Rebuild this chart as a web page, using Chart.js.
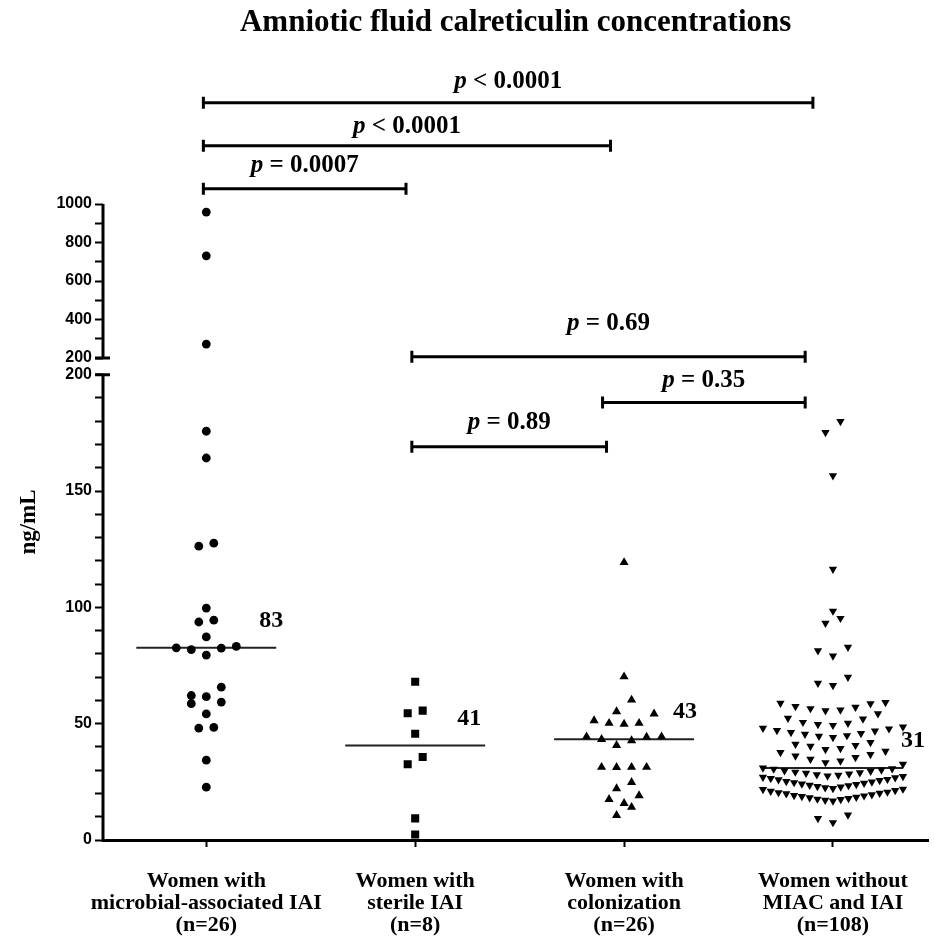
<!DOCTYPE html>
<html>
<head>
<meta charset="utf-8">
<title>Amniotic fluid calreticulin concentrations</title>
<script src="https://cdn.jsdelivr.net/npm/chart.js@4.4.0/dist/chart.umd.min.js"></script>
<style>
  html, body { margin: 0; padding: 0; background: #fff; }
  #wrap { width: 934px; height: 936px; }
</style>
</head>
<body>
<div id="wrap"><canvas id="chart" width="934" height="936"></canvas></div>
<script>
/* Amniotic fluid calreticulin — scatter dot plot, broken y axis */

// ============ DATA ============
const groupLabels = [
  ['Women with', 'microbial-associated IAI', '(n=26)'],
  ['Women with', 'sterile IAI', '(n=8)'],
  ['Women with', 'colonization', '(n=26)'],
  ['Women without', 'MIAC and IAI', '(n=108)']
];

const microbialIAI = [958, 731, 273, 175.7, 164.2, 127.6, 126.3, 99.7, 94.5, 93.7, 87.3,
  83.2, 82.6, 82.5, 81.8, 79.5, 65.7, 62.1, 61.6, 59.3, 58.6, 54.2, 48.4, 48.1, 34.3, 22.7];

const sterileIAI = [68.0, 55.6, 54.5, 45.7, 35.7, 32.6, 9.3, 2.4];

const colonization = [119.3, 70.2, 60.2, 55.2, 54.2, 51.3, 50.2, 50.2, 49.8, 44.4, 44.4, 44.2,
  43.3, 42.7, 40.7, 31.3, 31.3, 31.3, 31.2, 24.8, 22.1, 19.1, 17.5, 15.8, 14.1, 10.6];

const noMiacIai = [179.9, 175.2, 156.6, 116.4, 98.4, 95.3, 93.2, 82.9, 81.4, 79.1, 70.0, 67.4, 66.4,
  59.1, 58.8, 58.6, 57.4, 57.1, 56.5, 55.9, 55.6, 54.3, 52.4, 52.0,
  50.6, 50.2, 49.7, 49.3, 48.6, 48.1, 47.8, 47.1, 46.9, 46.2, 45.8, 45.5, 44.9, 44.6, 44.1,
  41.9, 41.2, 40.7, 40.3, 39.4, 38.9, 38.2, 37.6, 36.8, 36.1, 35.5, 34.7, 34.0, 33.3, 32.6,
  31.0, 30.7, 30.5, 30.1, 29.8, 29.6, 29.2, 28.9, 28.7, 28.4, 28.1, 27.9, 27.5, 27.3, 27.0, 26.8, 26.5,
  26.1, 25.9, 25.6, 25.2, 25.0, 24.7, 24.4, 24.1, 23.9, 23.6, 23.4, 23.0, 22.8, 22.5, 22.2, 21.9, 21.7,
  21.3, 21.0, 20.6, 20.4, 20.1, 19.9, 19.5, 19.2, 19.0, 18.7, 18.4, 18.2, 17.9, 17.6, 17.4, 17.1, 16.8,
  10.8, 9.3, 7.5];

const medians = [82.6, 40.6, 43.3, 31.0];

const lowerTicks = [0, 50, 100, 150, 200];
const upperTicks = [200, 400, 600, 800, 1000];

// p-value brackets (x in group units, y in the units of the given axis)
const brackets = [
  { a: 0.986, b: 3.904, axis: 'y2', at: 1526, textAt: 1635, text: '< 0.0001' },
  { a: 0.986, b: 2.935, axis: 'y2', at: 1302, textAt: 1401, text: '< 0.0001' },
  { a: 0.986, b: 1.956, axis: 'y2', at: 1079, textAt: 1199, text: '= 0.0007' },
  { a: 1.984, b: 3.867, axis: 'y', at: 207.7, textAt: 222.0, text: '= 0.69' },
  { a: 2.897, b: 3.867, axis: 'y', at: 188.0, textAt: 197.3, text: '= 0.35' },
  { a: 1.984, b: 2.916, axis: 'y', at: 169.0, textAt: 179.4, text: '= 0.89' }
];

// ============ STYLE ============
const SERIF = '"Liberation Serif", "Times New Roman", serif';
const SANS = '"Liberation Sans", Arial, sans-serif';
const BREAK = 200;
const BIN_PX = 12;      // rows of the dot plot
const SPACING = 15;     // px between dots in a row
const MAX_ROW = 140;    // widest row, px
const medianLabelDx = [-17, -28, -21, -2];

function pts(vals, g) { return vals.map(v => ({ x: g, y: v })); }

function tickRange(labels, step) {
  const out = [];
  for (let v = labels[0]; v <= labels[labels.length - 1] + 1e-9; v += step) out.push({ value: Math.round(v) });
  return out;
}

function dots(data, g, axis, style, radius, rotation) {
  return {
    data: pts(data, g), group: g, swarm: true, yAxisID: axis,
    pointStyle: style, pointRadius: radius, rotation: rotation || 0,
    backgroundColor: '#000', borderColor: '#000', pointBorderWidth: 0,
    showLine: false
  };
}

function medianLine(m, i) {
  return {
    data: [{ x: i + 1 - 0.335, y: m }, { x: i + 1 + 0.335, y: m }],
    yAxisID: 'y', showLine: true, pointRadius: 0,
    borderColor: '#222', borderWidth: 2
  };
}

// spread points sideways in rows, lowest value in the middle
function swarm(chart) {
  const xs = chart.scales.x;
  const unit = xs.getPixelForValue(2) - xs.getPixelForValue(1);
  chart.data.datasets.forEach(ds => {
    if (!ds.swarm) return;
    const ys = chart.scales[ds.yAxisID];
    const list = ds.data.map(p => ({ p, py: ys.getPixelForValue(p.y) })).sort((a, b) => b.py - a.py);
    let i = 0;
    while (i < list.length) {
      let j = i;
      while (j + 1 < list.length && list[i].py - list[j + 1].py <= BIN_PX) j++;
      const row = list.slice(i, j + 1);
      const n = row.length;
      const gap = n > 1 ? Math.min(SPACING, MAX_ROW / (n - 1)) : 0;
      row.forEach((r, k) => {
        let slot;
        if (n % 2) slot = k === 0 ? 0 : Math.ceil(k / 2) * (k % 2 ? -1 : 1);
        else slot = (Math.floor(k / 2) + 0.5) * (k % 2 ? 1 : -1);
        r.p.x = ds.group + slot * gap / unit;
      });
      i = j + 1;
    }
  });
}

const decorations = {
  id: 'decorations',
  afterDraw(chart) {
    const { ctx, chartArea, scales } = chart;
    const ax = chartArea.left;
    ctx.save();
    ctx.strokeStyle = '#000';
    ctx.fillStyle = '#000';

    // broken y axis
    ctx.lineWidth = 3;
    const y0 = scales.y.getPixelForValue(0), yLow = scales.y.getPixelForValue(BREAK);
    const yHigh = scales.y2.getPixelForValue(BREAK), yTop = scales.y2.getPixelForValue(1000);
    ctx.beginPath();
    ctx.moveTo(ax, y0 + 1.5); ctx.lineTo(ax, yLow);
    ctx.moveTo(ax - 8, yLow); ctx.lineTo(ax + 7, yLow);
    ctx.moveTo(ax, yHigh); ctx.lineTo(ax, yTop);
    ctx.moveTo(ax - 8, yHigh); ctx.lineTo(ax + 7, yHigh);
    ctx.stroke();

    // brackets with p values
    const pSize = 25;
    brackets.forEach(br => {
      const ys = scales[br.axis];
      const x1 = scales.x.getPixelForValue(br.a), x2 = scales.x.getPixelForValue(br.b);
      const y = ys.getPixelForValue(br.at);
      ctx.lineWidth = 3;
      ctx.beginPath();
      ctx.moveTo(x1, y); ctx.lineTo(x2, y);
      ctx.moveTo(x1, y - 6); ctx.lineTo(x1, y + 6);
      ctx.moveTo(x2, y - 6); ctx.lineTo(x2, y + 6);
      ctx.stroke();

      const ty = ys.getPixelForValue(br.textAt);
      const cx = (x1 + x2) / 2;
      ctx.textBaseline = 'middle';
      ctx.textAlign = 'left';
      ctx.font = `italic bold ${pSize}px ${SERIF}`;
      const wp = ctx.measureText('p').width;
      ctx.font = `bold ${pSize}px ${SERIF}`;
      const rest = ' ' + br.text;
      const wr = ctx.measureText(rest).width;
      const sx = cx - (wp + wr) / 2;
      ctx.font = `italic bold ${pSize}px ${SERIF}`;
      ctx.fillText('p', sx, ty);
      ctx.font = `bold ${pSize}px ${SERIF}`;
      ctx.fillText(rest, sx + wp, ty);
    });

    // median values
    ctx.font = `bold 24px ${SERIF}`;
    ctx.textAlign = 'left';
    ctx.textBaseline = 'middle';
    medians.forEach((m, i) => {
      const x = scales.x.getPixelForValue(i + 1 + 0.335) + medianLabelDx[i];
      const y = scales.y.getPixelForValue(m) - 27;
      ctx.fillText(String(Math.round(m)), x, y);
    });

    // y axis title
    ctx.translate(29, (y0 + yTop) / 2);
    ctx.rotate(-Math.PI / 2);
    ctx.textAlign = 'center';
    ctx.font = `bold 23px ${SERIF}`;
    ctx.fillText('ng/mL', 0, 0);
    ctx.restore();
  }
};

const yTicksFont = { family: SANS, size: 16, weight: 'bold' };

const config = {
  type: 'scatter',
  data: {
    datasets: [
      dots(microbialIAI.filter(v => v <= BREAK), 1, 'y', 'circle', 4.4),
      dots(microbialIAI.filter(v => v > BREAK), 1, 'y2', 'circle', 4.4),
      dots(sterileIAI, 2, 'y', 'rect', 5.7),
      dots(colonization, 3, 'y', 'triangle', 5.3),
      dots(noMiacIai, 4, 'y', 'triangle', 4.8, 180),
      ...medians.map(medianLine)
    ]
  },
  options: {
    responsive: false,
    animation: false,
    events: [],
    layout: { padding: 0 },
    plugins: {
      legend: { display: false },
      tooltip: { enabled: false },
      title: {
        display: true,
        text: 'Amniotic fluid calreticulin concentrations',
        fullSize: false,
        color: '#000',
        font: { family: SERIF, size: 31, weight: 'bold', lineHeight: 1.15 },
        padding: { top: 5, bottom: 9 }
      }
    },
    scales: {
      x: {
        type: 'linear', min: 0.5055, max: 4.4564,
        afterBuildTicks: s => { s.ticks = groupLabels.map((_, i) => ({ value: i + 1 })); },
        afterFit: s => { s.height = 96; },
        grid: { drawOnChartArea: false, tickLength: 7, tickWidth: 2, tickColor: '#000' },
        border: { display: true, color: '#000', width: 3 },
        ticks: {
          autoSkip: false, maxRotation: 0, padding: 23, color: '#000',
          font: { family: SERIF, size: 22, weight: 'bold', lineHeight: 1.0 },
          callback: v => groupLabels[v - 1]
        }
      },
      y: {
        type: 'linear', position: 'left', stack: 'v', stackWeight: 473,
        min: 0, max: 203.4,
        afterBuildTicks: s => { s.ticks = tickRange(lowerTicks, 10); },
        afterFit: s => { s.width = 103; },
        grid: { drawOnChartArea: false, tickLength: 8, tickWidth: 2, tickColor: '#000' },
        border: { display: false },
        ticks: {
          autoSkip: false, padding: 3, color: '#000', font: yTicksFont,
          callback: v => lowerTicks.includes(v) ? String(v) : ''
        }
      },
      y2: {
        type: 'linear', position: 'left', stack: 'v', stackWeight: 317,
        min: 154.8, max: 1801.6,
        afterBuildTicks: s => { s.ticks = tickRange(upperTicks, 100); },
        afterFit: s => { s.width = 103; },
        grid: { drawOnChartArea: false, tickLength: 8, tickWidth: 2, tickColor: '#000' },
        border: { display: false },
        ticks: {
          autoSkip: false, padding: 3, color: '#000', font: yTicksFont,
          callback: v => upperTicks.includes(v) ? String(v) : ''
        }
      }
    }
  },
  plugins: [decorations]
};

const chart = new Chart(document.getElementById('chart').getContext('2d'), config);
swarm(chart);
chart.update('none');
</script>
</body>
</html>
